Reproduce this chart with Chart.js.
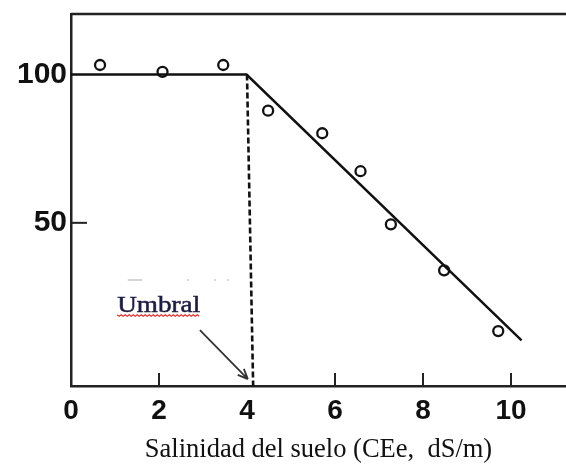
<!DOCTYPE html>
<html>
<head>
<meta charset="utf-8">
<script src="https://cdn.jsdelivr.net/npm/chart.js@4.4.0/dist/chart.umd.min.js"></script>
<style>
html,body{margin:0;padding:0;background:#fff;overflow:hidden}
#chSal{display:block}
</style>
</head>
<body>
<canvas id="chSal" width="566" height="465"></canvas>
<script>
// puntos medidos (CEe dS/m, rendimiento relativo %)
var salX = [0.66, 2.08, 3.46, 4.48, 5.71, 6.58, 7.27, 8.48, 9.71];
var salY = [103.2, 100.9, 103.2, 87.8, 80.2, 67.4, 49.5, 34.0, 13.5];

// recta de respuesta: tramo plano + pendiente
var lineX = [0, 3.99, 10.24];
var lineY = [100, 100, 10.4];

// linea discontinua del umbral
var umbralX = [4.0, 4.14];
var umbralY = [100, -5];

// ejes
var xTicks = [0, 2, 4, 6, 8, 10];
var yTicks = [50, 100];
var xTickMarks = [2, 6, 8, 10];
var yTickMarks = [50];
var xLabel = 'Salinidad del suelo (CEe,  dS/m)';

// anotacion "Umbral" (en unidades de los ejes)
var umbralText = 'Umbral';
var umbralTextPos = [1.05, 20.0];
var arrowFrom = [2.93, 13.8];
var arrowTo = [4.02, -2.7];

function pts(xs, ys) {
    return xs.map(function (x, i) { return { x: x, y: ys[i] }; });
}

var axisColor = '#222';

var annotPlugin = {
    id: 'annot',
    afterDraw: function (chart) {
        var ctx = chart.ctx, a = chart.chartArea;
        var sx = chart.scales.x, sy = chart.scales.y;
        ctx.save();

        // borde superior
        ctx.strokeStyle = axisColor;
        ctx.lineWidth = 2.5;
        ctx.beginPath();
        ctx.moveTo(a.left, a.top);
        ctx.lineTo(a.right, a.top);
        ctx.stroke();

        // marcas hacia dentro
        ctx.lineWidth = 2;
        xTickMarks.forEach(function (v) {
            var px = sx.getPixelForValue(v);
            ctx.beginPath();
            ctx.moveTo(px, a.bottom);
            ctx.lineTo(px, a.bottom - 13);
            ctx.stroke();
        });
        yTickMarks.forEach(function (v) {
            var py = sy.getPixelForValue(v);
            ctx.beginPath();
            ctx.moveTo(a.left, py);
            ctx.lineTo(a.left + 16, py);
            ctx.stroke();
        });

        // marcas grises tenues
        var gy = sy.getPixelForValue(30.7);
        ctx.strokeStyle = '#c8c8c8';
        ctx.lineWidth = 1.5;
        ctx.beginPath();
        ctx.moveTo(sx.getPixelForValue(1.29), gy);
        ctx.lineTo(sx.getPixelForValue(1.62), gy);
        [2.66, 3.27, 3.57].forEach(function (v) {
            var px = sx.getPixelForValue(v);
            ctx.moveTo(px - 1, gy);
            ctx.lineTo(px + 1, gy);
        });
        ctx.stroke();

        // flecha
        var x1 = sx.getPixelForValue(arrowFrom[0]), y1 = sy.getPixelForValue(arrowFrom[1]);
        var x2 = sx.getPixelForValue(arrowTo[0]), y2 = sy.getPixelForValue(arrowTo[1]);
        ctx.strokeStyle = '#333';
        ctx.lineWidth = 1.8;
        ctx.beginPath();
        ctx.moveTo(x1, y1);
        ctx.lineTo(x2, y2);
        var ang = Math.atan2(y2 - y1, x2 - x1);
        ctx.moveTo(x2, y2);
        ctx.lineTo(x2 - 11 * Math.cos(ang - 0.4), y2 - 11 * Math.sin(ang - 0.4));
        ctx.moveTo(x2, y2);
        ctx.lineTo(x2 - 11 * Math.cos(ang + 0.4), y2 - 11 * Math.sin(ang + 0.4));
        ctx.stroke();

        // texto "Umbral"
        var tx = sx.getPixelForValue(umbralTextPos[0]);
        var ty = sy.getPixelForValue(umbralTextPos[1]);
        ctx.font = '23px "Liberation Serif", "DejaVu Serif", serif';
        var w = ctx.measureText(umbralText).width;
        var k = 83 / w;
        ctx.save();
        ctx.translate(tx, ty);
        ctx.scale(k, 1);
        ctx.fillStyle = '#1c1c44';
        ctx.strokeStyle = '#1c1c44';
        ctx.lineWidth = 0.5;
        ctx.textBaseline = 'alphabetic';
        ctx.fillText(umbralText, 0, 0);
        ctx.strokeText(umbralText, 0, 0);
        ctx.restore();

        // subrayado ondulado rojo
        ctx.strokeStyle = '#e03030';
        ctx.lineWidth = 1.2;
        ctx.beginPath();
        var uy = ty + 3;
        for (var i = 0; i <= 83; i += 2) {
            var yy = uy + ((i / 2) % 2 === 0 ? 0 : 1.5);
            if (i === 0) ctx.moveTo(tx + i, yy); else ctx.lineTo(tx + i, yy);
        }
        ctx.stroke();

        ctx.restore();
    }
};

window.onload = function onload() {
    var ch = document.getElementById('chSal');
    new Chart(ch, {
        type: 'scatter',
        data: {
            datasets: [{
                label: 'recta',
                type: 'line',
                data: pts(lineX, lineY),
                borderColor: '#111',
                borderWidth: 2.5,
                pointRadius: 0,
                fill: false,
                tension: 0,
                order: 2
            }, {
                label: 'umbral',
                type: 'line',
                data: pts(umbralX, umbralY),
                borderColor: '#111',
                borderWidth: 2.6,
                borderDash: [6, 3],
                pointRadius: 0,
                fill: false,
                order: 3
            }, {
                label: 'datos',
                data: pts(salX, salY),
                pointStyle: 'circle',
                pointRadius: 5,
                pointBorderWidth: 2.3,
                borderColor: '#111',
                backgroundColor: 'rgba(255,255,255,0)',
                order: 1
            }]
        },
        options: {
            responsive: false,
            animation: false,
            layout: { autoPadding: false, padding: { top: 14, right: 0, left: 0, bottom: 0 } },
            plugins: { legend: { display: false }, tooltip: { enabled: false } },
            scales: {
                x: {
                    type: 'linear',
                    min: 0,
                    max: 11.25,
                    grid: { display: false, drawTicks: false },
                    border: { display: true, color: axisColor, width: 2.5 },
                    afterBuildTicks: function (s) { s.ticks = xTicks.map(function (v) { return { value: v }; }); },
                    afterFit: function (s) {
                        s.height = 79;
                        s.paddingLeft = 0; s.paddingRight = 0;
                    },
                    ticks: {
                        padding: 8,
                        color: '#111',
                        maxRotation: 0,
                        autoSkip: false,
                        font: { family: '"Liberation Sans", Arial, sans-serif', size: 28, weight: 'bold' }
                    },
                    title: {
                        display: true,
                        text: xLabel,
                        color: '#111',
                        padding: { top: 0, bottom: 0 },
                        font: { family: '"Liberation Serif", "Times New Roman", serif', size: 26.5, lineHeight: 1.1 }
                    }
                },
                y: {
                    type: 'linear',
                    min: -5,
                    max: 120.4,
                    grid: { display: false, drawTicks: false },
                    border: { display: true, color: axisColor, width: 2.5 },
                    afterBuildTicks: function (s) { s.ticks = yTicks.map(function (v) { return { value: v }; }); },
                    afterFit: function (s) {
                        s.width = 71;
                        s.paddingTop = 0; s.paddingBottom = 0;
                    },
                    ticks: {
                        padding: 4,
                        color: '#111',
                        font: { family: '"Liberation Sans", Arial, sans-serif', size: 30, weight: 'bold' }
                    }
                }
            }
        },
        plugins: [annotPlugin]
    });
};
</script>
</body>
</html>
